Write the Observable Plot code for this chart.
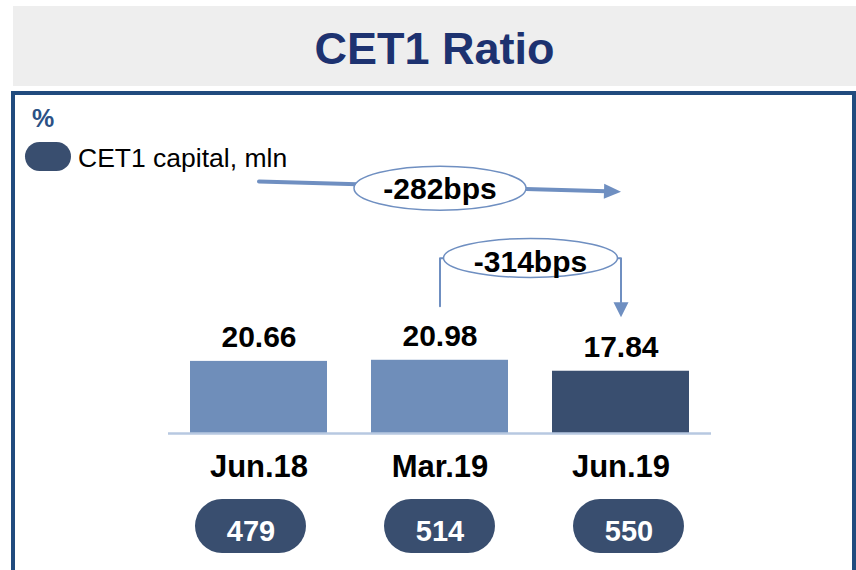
<!DOCTYPE html>
<html><head><meta charset="utf-8">
<script src="https://cdn.jsdelivr.net/npm/d3@7"></script>
<script src="https://cdn.jsdelivr.net/npm/@observablehq/plot@0.6"></script>
<style>
body{margin:0;background:#fff;font-family:"Liberation Sans",Arial,sans-serif;}
#wrap{position:relative;width:856px;height:570px;overflow:hidden;background:#fff;}
.abs{position:absolute;white-space:nowrap;}
#wrap svg{position:absolute;left:0;}
</style></head><body>
<div id="wrap">
  <div class="abs" style="left:13px;top:6px;width:843px;height:80px;background:#eeeeee"></div>
  <div class="abs" style="left:13px;top:26px;width:843px;text-align:center;font-size:45px;line-height:45px;font-weight:bold;color:#1d3270">CET1 Ratio</div>
  <div class="abs" style="left:11px;top:91px;width:837px;height:600px;border:4px solid #214b7e"></div>
  <div class="abs" style="left:32px;top:106px;font-size:25px;line-height:25px;font-weight:bold;color:#2b5185">%</div>
  <div class="abs" style="left:25px;top:142px;width:46px;height:29px;border-radius:14.5px;background:#394e6f"></div>
  <div class="abs" id="legtext" style="left:78px;top:144.5px;font-size:26.5px;line-height:26.5px;color:#000"></div>
</div>
<script>
// ---- data ----
const periods = ["Jun.18", "Mar.19", "Jun.19"];
const cet1Ratio = [20.66, 20.98, 17.84];      // %
const cet1Capital = [479, 514, 550];          // mln
const legendLabel = "CET1 capital, mln";
const changeLabels = ["-282bps", "-314bps"];

document.getElementById("legtext").textContent = legendLabel;

const data = periods.map((p, i) => ({period: p, i, value: cet1Ratio[i], capital: cet1Capital[i]}));

const LIGHT = "#6f8eba", DARK = "#394e6f", ARROW = "#6f8fc1";
const FONT = "Liberation Sans, Arial, sans-serif";

// layout
const W = 856, H = 570;
const mL = 168, mR = 145, mT = 84, mB = 137;
const pxX = (W - mL - mR) / 3, pxY = (H - mT - mB) / 100;

function ellipse(rx, ry) {
  const k = 0.5523;
  return {draw(c) {
    c.moveTo(rx, 0);
    c.bezierCurveTo(rx, ry * k, rx * k, ry, 0, ry);
    c.bezierCurveTo(-rx * k, ry, -rx, ry * k, -rx, 0);
    c.bezierCurveTo(-rx, -ry * k, -rx * k, -ry, 0, -ry);
    c.bezierCurveTo(rx * k, -ry, rx, -ry * k, rx, 0);
    c.closePath();
  }};
}
function head(len, hw, angle) {
  const ca = Math.cos(angle), sa = Math.sin(angle);
  const pt = (x, y) => [x * ca - y * sa, x * sa + y * ca];
  return {draw(c) {
    const a = pt(-len, -hw), b = pt(-len, hw);
    c.moveTo(0, 0); c.lineTo(a[0], a[1]); c.lineTo(b[0], b[1]); c.closePath();
  }};
}

// annotation anchors (data space)
const a1 = {x1: 0.5, y1: 72.2, x2: 2.5, y2: 69.3};
const a1Angle = Math.atan2((a1.y1 - a1.y2) * pxY, (a1.x2 - a1.x1) * pxX);
const gap = 15.5;
const bracketTop = 50.2;
const bracket = [
  {x: 1.5, y: cet1Ratio[1] + gap},
  {x: 1.5, y: bracketTop},
  {x: 2.5, y: bracketTop},
  {x: 2.5, y: cet1Ratio[2] + gap + 15 / pxY}
];
const tip2 = {x: 2.5, y: cet1Ratio[2] + gap};

const main = Plot.plot({
  width: W, height: H,
  marginLeft: mL, marginRight: mR, marginTop: mT, marginBottom: mB,
  style: "background: transparent; overflow: visible; font-family: " + FONT,
  x: {domain: [0, 3], axis: null},
  y: {domain: [0, 100], axis: null},
  marks: [
    Plot.rect(data, {x1: "i", x2: d => d.i + 1, y1: 0, y2: "value", insetLeft: 22, insetRight: 22,
      fill: d => d.i === 2 ? DARK : LIGHT}),
    Plot.ruleY([0], {stroke: "#b7c8e1", strokeWidth: 2.5}),
    Plot.text(data, {x: d => d.i + 0.5, y: "value", text: d => d.value.toFixed(2), lineAnchor: "bottom",
      dy: -14, fontSize: 30, fontWeight: "bold", fill: "#000", fontFamily: FONT}),
    Plot.text(data, {x: d => d.i + 0.5, y: 0, text: "period", lineAnchor: "top",
      dy: 21, fontSize: 31, fontWeight: "bold", fill: "#000", fontFamily: FONT}),
    // -282bps arrow
    Plot.arrow([a1], {x1: "x1", y1: "y1", x2: "x2", y2: "y2", stroke: ARROW, strokeWidth: 4,
      headLength: 0, insetEnd: 15}),
    Plot.dot([a1], {x: "x2", y: "y2", r: 5, symbol: head(17, 7.5, a1Angle), fill: ARROW, stroke: "none"}),
    Plot.dot([{x: 1.5, y: 70.3}], {x: "x", y: "y", r: 5, symbol: ellipse(86, 22), fill: "white",
      stroke: ARROW, strokeWidth: 1.5}),
    Plot.text([{x: 1.5, y: 70.3, t: changeLabels[0]}], {x: "x", y: "y", text: "t", dy: 1,
      fontSize: 30, fontWeight: "bold", fill: "#000", fontFamily: FONT}),
    // -314bps bracket
    Plot.line(bracket, {x: "x", y: "y", stroke: ARROW, strokeWidth: 2, curve: "linear"}),
    Plot.dot([tip2], {x: "x", y: "y", r: 5, symbol: head(15, 7.5, Math.PI / 2), fill: ARROW, stroke: "none"}),
    Plot.dot([{x: 2.0, y: 50.3}], {x: "x", y: "y", r: 5, symbol: ellipse(87, 19.5), fill: "white",
      stroke: ARROW, strokeWidth: 1.5}),
    Plot.text([{x: 2.0, y: 50.3, t: changeLabels[1]}], {x: "x", y: "y", text: "t", dy: 4,
      fontSize: 30, fontWeight: "bold", fill: "#000", fontFamily: FONT})
  ]
});
main.style.top = "0px";
document.getElementById("wrap").appendChild(main);

const pills = Plot.plot({
  width: W, height: 54,
  marginLeft: 156, marginRight: 133, marginTop: 0, marginBottom: 0,
  style: "background: transparent; overflow: visible; font-family: " + FONT,
  x: {domain: [0, 3], axis: null},
  y: {domain: [0, 1], axis: null},
  marks: [
    Plot.rect(data, {x1: "i", x2: d => d.i + 1, y1: 0, y2: 1, insetLeft: 39, insetRight: 39,
      rx: 27, fill: DARK}),
    Plot.text(data, {x: d => d.i + 0.5, y: 0.5, text: d => String(d.capital), dy: 5,
      fontSize: 29, fontWeight: "bold", fill: "white", fontFamily: FONT})
  ]
});
pills.style.top = "499px";
document.getElementById("wrap").appendChild(pills);
</script>
</body></html>
